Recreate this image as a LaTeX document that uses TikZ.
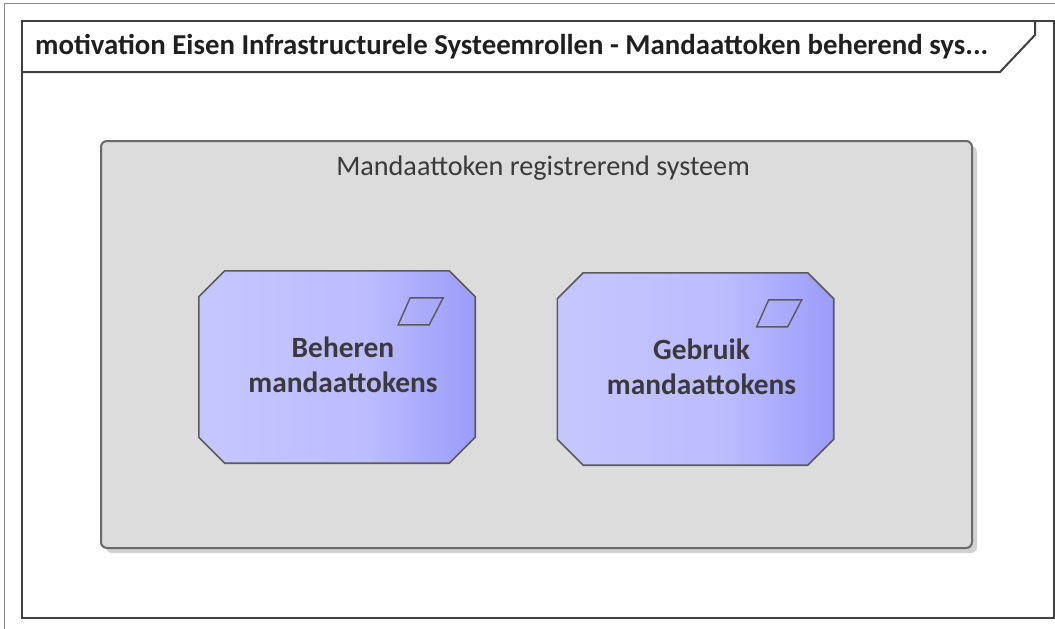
\documentclass[tikz,border=0pt]{standalone}
\usepackage{fontspec}
\setmainfont{Carlito}
\usetikzlibrary{calc,shadows}
\definecolor{frameline}{HTML}{404040}
\definecolor{outerline}{HTML}{8A8A8A}
\definecolor{contfill}{HTML}{DCDCDC}
\definecolor{contline}{HTML}{6A6A6A}
\definecolor{reqL}{HTML}{C6C6FF}
\definecolor{reqM}{HTML}{BCBCFF}
\definecolor{reqR}{HTML}{9C9CFA}
\definecolor{reqline}{HTML}{5A5A5A}
\definecolor{txtdark}{HTML}{3A3A3A}
\pgfdeclarehorizontalshading{reqshade}{100bp}{color(0bp)=(reqL); color(25bp)=(reqL); color(55bp)=(reqM); color(75bp)=(reqR); color(100bp)=(reqR)}
\tikzset{
  framestyle/.style={draw=frameline, line width=2pt},
  titlefont/.style={font=\fontsize{28.8}{33}\selectfont\bfseries, text=black!88, anchor=west, inner sep=0pt},
  contstyle/.style={draw=contline, line width=2pt, fill=contfill, rounded corners=6pt,
    drop shadow={shadow xshift=5pt, shadow yshift=-5pt, opacity=0.3, fill=black!60}},
  contlabel/.style={font=\fontsize{28.2}{33}\selectfont, text=txtdark, inner sep=0pt},
  reqbox/.style={minimum width=276pt, minimum height=192pt, inner sep=0pt, draw=none},
  reqtext/.style={font=\fontsize{29.4}{35}\selectfont\bfseries, text=txtdark, align=center, inner sep=0pt},
  octo/.style={draw=reqline, line width=1.6pt, shading=reqshade},
  icon/.style={draw=reqline, line width=1.4pt, line join=miter},
}
\newcommand{\octagon}[1]{%
  \path[octo] ([xshift=26pt]#1.north west) -- ([xshift=-26pt]#1.north east) -- ([yshift=-26pt]#1.north east)
    -- ([yshift=26pt]#1.south east) -- ([xshift=-26pt]#1.south east) -- ([xshift=26pt]#1.south west)
    -- ([yshift=26pt]#1.south west) -- ([yshift=-26pt]#1.north west) -- cycle;
  \draw[icon] ($(#1.north east)+(-77,54)$) -- ($(#1.north east)+(-65,27)$) -- ($(#1.north east)+(-32,27)$) -- ($(#1.north east)+(-46,54)$) -- cycle;}
\begin{document}
\begin{tikzpicture}[x=1pt,y=-1pt]
\useasboundingbox (0,0) rectangle (1055,629);
% outer thin border
\draw[outerline, line width=1pt] (4,629) -- (4,3) -- (1055,3);
% frame
\draw[framestyle] (22,21) rectangle (1054,618);
\draw[framestyle, line join=miter] (22,72) -- (1000,72) -- (1035,35) -- (1035,21);
\node[titlefont] (title) at (35,47) {motivation Eisen Infrastructurele Systeemrollen - Mandaattoken beherend sys...};
% container
\path[contstyle] (101,141) rectangle (972,548);
\node[contlabel] (cont) at (543,168) {Mandaattoken registrerend systeem};
% requirements
\node[reqbox] (beh) at (337,367) {};
\node[reqbox] (geb) at (695.5,369) {};
\octagon{beh}
\octagon{geb}
\node[reqtext] (behtxt) at ($(beh.center)+(6,-2)$) {Beheren\\mandaattokens};
\node[reqtext] (gebtxt) at ($(geb.center)+(6,-2)$) {Gebruik\\mandaattokens};
\end{tikzpicture}
\end{document}
